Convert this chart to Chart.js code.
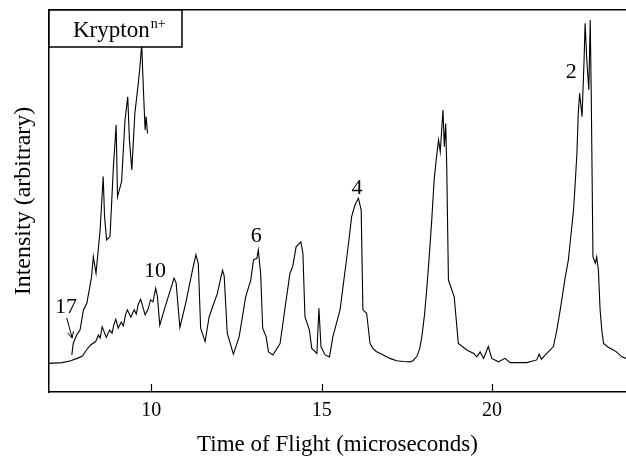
<!DOCTYPE html>
<html>
<head>
<meta charset="utf-8">
<script src="https://cdn.jsdelivr.net/npm/chart.js@4/dist/chart.umd.min.js"></script>
<style>
  html, body { margin: 0; padding: 0; background: #fff; overflow: hidden; }
  #wrap { width: 626px; height: 459px; position: relative; }
</style>
</head>
<body>
<div id="wrap"><canvas id="tofChart"></canvas></div>
<script>
// 飞行时间谱 - Krypton n+

// 主谱线 (time in microseconds, intensity arbitrary)
const mainTime = [
  7.0, 7.39, 7.64, 7.88, 7.98, 8.10, 8.22, 8.37, 8.45, 8.50, 8.56, 8.68, 8.78, 8.85,
  8.90, 8.96, 9.03, 9.12, 9.18, 9.25, 9.30, 9.40, 9.50, 9.56, 9.62, 9.69, 9.82, 9.90,
  9.98, 10.05, 10.13, 10.18, 10.25, 10.38, 10.67, 10.73, 10.84, 11.01, 11.21, 11.31,
  11.38, 11.45, 11.58, 11.70, 11.94, 12.09, 12.14, 12.23, 12.41, 12.58, 12.77, 12.92,
  13.0, 13.1, 13.14, 13.21, 13.27, 13.37, 13.44, 13.57, 13.78, 13.93, 14.07, 14.15,
  14.25, 14.39, 14.45, 14.51, 14.64, 14.71, 14.86, 14.92, 14.98, 15.10, 15.23, 15.33,
  15.54, 15.64, 15.74, 15.80, 15.88, 15.98, 16.08, 16.16, 16.21, 16.32, 16.42, 16.50,
  16.60, 16.81, 17.00, 17.20, 17.40, 17.60, 17.68, 17.74, 17.80, 17.88, 17.94, 18.02,
  18.09, 18.16, 18.23, 18.30, 18.36, 18.43, 18.48, 18.56, 18.60, 18.64, 18.67, 18.72,
  18.82, 18.89, 19.01, 19.26, 19.46, 19.55, 19.65, 19.75, 19.89, 19.99, 20.19, 20.38,
  20.53, 21.02, 21.31, 21.38, 21.45, 21.51, 21.80, 21.90, 22.0, 22.15, 22.24, 22.29,
  22.39, 22.44, 22.49, 22.53, 22.57, 22.64, 22.70, 22.73, 22.78, 22.84, 22.88, 22.91,
  22.96, 23.03, 23.07, 23.12, 23.17, 23.22, 23.27, 23.40, 23.56, 23.65, 23.81, 23.93
];
const mainIntensity = [
  7.5, 7.7, 8.2, 9.0, 9.4, 11.0, 12.3, 13.2, 14.9, 14.1, 17.1, 14.3, 16.2, 15.4,
  17.5, 19.0, 16.7, 18.3, 17.3, 20.4, 21.5, 19.6, 21.5, 20.4, 23.0, 24.3, 20.2, 21.5,
  24.1, 23.6, 27.1, 25.1, 17.5, 21.5, 29.8, 28.5, 16.9, 23.2, 31.9, 35.9,
  33.7, 16.7, 13.2, 19.7, 25.8, 31.9, 30.4, 15.4, 9.9, 14.5, 24.9, 29.3,
  34.6, 35.0, 37.2, 31.1, 16.7, 14.5, 10.5, 9.7, 12.7, 22.3, 31.1, 32.8,
  38.0, 39.3, 36.3, 19.7, 16.2, 11.4, 10.1, 21.9, 11.9, 9.7, 9.2, 14.5,
  21.5, 28.5, 35.4, 39.8, 45.9, 49.0, 50.7, 47.6, 21.5, 20.6, 12.7, 11.5,
  10.6, 9.7, 8.8, 8.2, 8.0, 7.9, 8.2, 8.8, 9.4, 11.5, 14.5, 20.4,
  27.6, 35.9, 45.0, 55.5, 60.7, 66.0, 62.9, 73.8, 64.2, 70.3, 59.0, 29.3,
  26.7, 24.9, 12.7, 11.0, 10.1, 9.2, 10.5, 8.8, 11.9, 8.8, 7.9, 8.8,
  7.7, 7.7, 8.4, 9.9, 8.6, 9.2, 11.9, 16.2, 21.5, 30.2, 34.6, 39.0,
  47.6, 54.7, 62.5, 73.0, 78.2, 72.1, 86.9, 96.5, 86.9, 79.1, 97.4, 78.2,
  35.4, 33.7, 35.4, 31.9, 21.5, 16.2, 12.7, 11.8, 11.0, 10.5, 9.2, 8.8
];

// 放大谱线 (高电荷态区域)
const zoomTime = [
  7.67, 7.71, 7.81, 7.91, 8.01, 8.11, 8.25, 8.30, 8.38, 8.50, 8.59, 8.63, 8.69, 8.79,
  8.89, 8.97, 9.01, 9.13, 9.23, 9.31, 9.36, 9.43, 9.52, 9.62, 9.67, 9.72, 9.77, 9.82,
  9.85, 9.89
];
const zoomIntensity = [
  9.7, 12.7, 14.9, 16.2, 21.5, 23.2, 30.2, 35.4, 31.1, 42.4, 56.4, 45.9, 39.8, 40.7,
  59.0, 69.9, 51.1, 55.1, 71.2, 77.3, 66.0, 58.1, 73.0, 80.8, 85.2, 91.0, 79.1, 68.6,
  72.1, 67.7
];

// 坐标轴刻度
const xTicks = [10, 15, 20];

// 电荷态标注
const chargeLabels = ['17', '10', '6', '4', '2'];
const chargeTime = [7.50, 10.11, 13.08, 16.04, 22.32];
const chargeIntensity = [22.1, 31.7, 40.8, 53.4, 83.8];

const serif = "'Liberation Serif', 'DejaVu Serif', serif";

// 内向刻度、标注、图例框
const decorPlugin = {
  id: 'decor',
  afterDatasetsDraw(chart) {
    const ctx = chart.ctx;
    const xs = chart.scales.x;
    const ys = chart.scales.y;
    const area = chart.chartArea;
    ctx.save();
    ctx.strokeStyle = '#000';
    ctx.fillStyle = '#000';

    // 内向刻度
    ctx.lineWidth = 1.2;
    xTicks.forEach(v => {
      const px = Math.round(xs.getPixelForValue(v)) + 0.5;
      ctx.beginPath();
      ctx.moveTo(px, area.bottom);
      ctx.lineTo(px, area.bottom - 8);
      ctx.stroke();
    });

    // 电荷态数字
    ctx.font = '22px ' + serif;
    ctx.textAlign = 'center';
    ctx.textBaseline = 'middle';
    chargeLabels.forEach((t, i) => {
      ctx.fillText(t, xs.getPixelForValue(chargeTime[i]), ys.getPixelForValue(chargeIntensity[i]));
    });

    // 17 的箭头
    const ax0 = xs.getPixelForValue(7.52), ay0 = ys.getPixelForValue(19.4);
    const ax1 = xs.getPixelForValue(7.68), ay1 = ys.getPixelForValue(14.1);
    ctx.lineWidth = 1;
    ctx.beginPath();
    ctx.moveTo(ax0, ay0);
    ctx.lineTo(ax1, ay1);
    ctx.stroke();
    const ang = Math.atan2(ay1 - ay0, ax1 - ax0);
    ctx.beginPath();
    ctx.moveTo(ax1 - 7 * Math.cos(ang - 0.45), ay1 - 7 * Math.sin(ang - 0.45));
    ctx.lineTo(ax1, ay1);
    ctx.lineTo(ax1 - 7 * Math.cos(ang + 0.45), ay1 - 7 * Math.sin(ang + 0.45));
    ctx.stroke();

    // 图例框
    const bx = area.left, by = area.top, bw = 133, bh = 37;
    ctx.fillStyle = '#fff';
    ctx.fillRect(bx, by, bw, bh);
    ctx.lineWidth = 1.5;
    ctx.strokeRect(bx, by, bw, bh);
    ctx.fillStyle = '#000';
    ctx.textAlign = 'left';
    ctx.textBaseline = 'alphabetic';
    ctx.font = '23px ' + serif;
    ctx.fillText('Krypton', bx + 24, by + 27);
    const w = ctx.measureText('Krypton').width;
    ctx.font = '14px ' + serif;
    ctx.fillText('n+', bx + 24 + w + 1, by + 18);
    ctx.restore();
  }
};

new Chart(document.getElementById('tofChart'), {
  type: 'line',
  data: {
    datasets: [
      {
        label: 'Krypton (×)',
        data: zoomTime.map((t, i) => ({ x: t, y: zoomIntensity[i] })),
        borderColor: '#000',
        borderWidth: 1.1,
        pointRadius: 0,
        tension: 0,
        fill: false
      },
      {
        label: 'Krypton',
        data: mainTime.map((t, i) => ({ x: t, y: mainIntensity[i] })),
        borderColor: '#000',
        borderWidth: 1.1,
        pointRadius: 0,
        tension: 0,
        fill: false
      }
    ]
  },
  options: {
    responsive: true,
    maintainAspectRatio: false,
    animation: false,
    devicePixelRatio: 1,
    layout: { padding: 0 },
    plugins: {
      legend: { display: false },
      tooltip: { enabled: false }
    },
    scales: {
      x: {
        type: 'linear',
        position: 'bottom',
        min: 7,
        max: 23.93,
        grid: { display: false, drawTicks: false },
        border: { display: true, color: '#000', width: 1.5 },
        afterBuildTicks: scale => { scale.ticks = xTicks.map(v => ({ value: v })); },
        ticks: {
          color: '#000',
          padding: 7,
          font: { family: serif, size: 20 },
          maxRotation: 0
        },
        title: {
          display: true,
          text: 'Time of Flight (microseconds)',
          color: '#000',
          font: { family: serif, size: 23 },
          padding: { top: 0, bottom: 0 }
        },
        afterFit: scale => { scale.height = 67; }
      },
      xTop: {
        type: 'linear',
        position: 'top',
        min: 7,
        max: 23.93,
        grid: { display: false, drawTicks: false },
        border: { display: true, color: '#000', width: 1.5 },
        ticks: { display: false },
        afterFit: scale => { scale.height = 10; }
      },
      y: {
        min: 0,
        max: 100,
        grid: { display: false, drawTicks: false },
        border: { display: true, color: '#000', width: 1.5 },
        ticks: { display: false },
        title: {
          display: true,
          text: 'Intensity (arbitrary)',
          color: '#000',
          font: { family: serif, size: 24 },
          padding: { top: 9, bottom: 0 }
        },
        afterFit: scale => { scale.width = 49; }
      }
    }
  },
  plugins: [decorPlugin]
});
</script>
</body>
</html>
